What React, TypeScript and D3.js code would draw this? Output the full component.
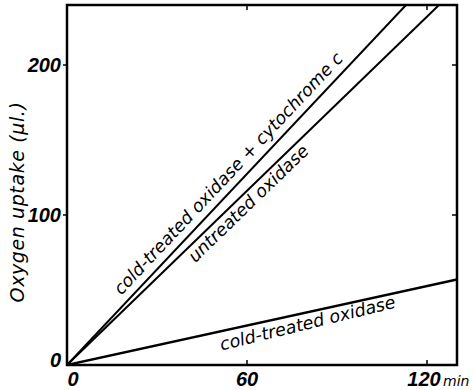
import React, { useEffect, useRef } from 'react'
import * as d3 from 'd3'

// time in minutes and oxygen uptake in µl
const cytochromeTimes = [0, 113]
const cytochromeValues = [0, 240]
const untreatedTimes = [0, 124]
const untreatedValues = [0, 240]
const coldTimes = [0, 130]
const coldValues = [0, 57]

const xTicks = [0, 60, 120]
const yTicks = [0, 100, 200]

const seriesNames = ['cold-treated oxidase + cytochrome c', 'untreated oxidase', 'cold-treated oxidase']

const W = 474
const H = 390
const FONT = '"DejaVu Sans", sans-serif'
const TICK_FONT = '"Liberation Sans", Arial, sans-serif'

export default function App() {
  const ref = useRef<SVGSVGElement>(null)

  useEffect(() => {
    const node = ref.current
    if (!node) return
    const svg = d3.select(node)
    svg.selectAll('*').remove()

    const margin = { left: 67, top: 5, right: 17, bottom: 25 }
    const x = d3.scaleLinear().domain([0, 130]).range([margin.left, W - margin.right])
    const y = d3.scaleLinear().domain([0, 240]).range([H - margin.bottom, margin.top])

    const series = [
      { name: seriesNames[0], t: cytochromeTimes, v: cytochromeValues, labelAt: 20, gap: -8, tilt: 0, width: 2 },
      { name: seriesNames[1], t: untreatedTimes, v: untreatedValues, labelAt: 39, gap: 16, tilt: 0, width: 2 },
      { name: seriesNames[2], t: coldTimes, v: coldValues, labelAt: 50, gap: 19, tilt: -1.5, width: 2.4 },
    ]

    svg.append('clipPath').attr('id', 'plot')
      .append('rect')
      .attr('x', x(0)).attr('y', y(240))
      .attr('width', x(130) - x(0)).attr('height', y(0) - y(240))

    const path = d3.line<[number, number]>()
      .x(d => x(d[0]))
      .y(d => y(d[1]))

    series.forEach(s => {
      const pts = s.t.map((t, i) => [t, s.v[i]] as [number, number])
      svg.append('path')
        .attr('d', path(pts))
        .attr('fill', 'none')
        .attr('stroke', '#000')
        .attr('stroke-width', s.width)
        .attr('clip-path', 'url(#plot)')

      // label along the line
      const interp = d3.scaleLinear().domain(s.t).range(s.v)
      const px = x(s.labelAt)
      const py = y(interp(s.labelAt))
      const last = pts[pts.length - 1]
      const angle = Math.atan2(y(last[1]) - y(0), x(last[0]) - x(0)) * 180 / Math.PI + s.tilt
      svg.append('text')
        .attr('transform', `translate(${px},${py}) rotate(${angle})`)
        .attr('y', s.gap)
        .attr('font-family', FONT)
        .attr('font-style', 'italic')
        .attr('font-size', 17.5)
        .text(s.name)
    })

    // frame
    svg.append('rect')
      .attr('x', x(0)).attr('y', y(240))
      .attr('width', x(130) - x(0)).attr('height', y(0) - y(240))
      .attr('fill', 'none')
      .attr('stroke', '#000')
      .attr('stroke-width', 2.5)

    // small ticks on all four sides
    xTicks.filter(t => t > 0).forEach(t => {
      svg.append('line').attr('x1', x(t)).attr('x2', x(t)).attr('y1', y(0)).attr('y2', y(0) - 5)
        .attr('stroke', '#000').attr('stroke-width', 1.5)
      svg.append('line').attr('x1', x(t)).attr('x2', x(t)).attr('y1', y(240)).attr('y2', y(240) + 5)
        .attr('stroke', '#000').attr('stroke-width', 1.5)
    })
    yTicks.filter(t => t > 0).forEach(t => {
      svg.append('line').attr('x1', x(0) - 4).attr('x2', x(0)).attr('y1', y(t)).attr('y2', y(t))
        .attr('stroke', '#000').attr('stroke-width', 1.5)
      svg.append('line').attr('x1', x(130)).attr('x2', x(130) - 5).attr('y1', y(t)).attr('y2', y(t))
        .attr('stroke', '#000').attr('stroke-width', 1.5)
    })

    const tickFont = (sel: any) => sel
      .attr('font-family', TICK_FONT)
      .attr('font-style', 'italic')
      .attr('font-weight', 'bold')
      .attr('font-size', 20)

    xTicks.forEach(t => {
      svg.append('text')
        .call(tickFont)
        .attr('x', t === 0 ? x(t) + 6 : t === 120 ? x(t) - 3 : x(t))
        .attr('y', H - 4)
        .attr('text-anchor', 'middle')
        .text(t)
    })
    svg.append('text')
      .attr('font-family', FONT)
      .attr('font-style', 'italic')
      .attr('font-size', 14)
      .attr('x', x(120) + 16)
      .attr('y', H - 4)
      .text('min')

    yTicks.forEach(t => {
      svg.append('text')
        .call(tickFont)
        .attr('x', x(0) - 6)
        .attr('y', y(t) + (t === 0 ? 2 : 7))
        .attr('text-anchor', 'end')
        .text(t)
    })

    svg.append('text')
      .attr('transform', `translate(24,${(y(0) + y(240)) / 2 + 17}) rotate(-90)`)
      .attr('text-anchor', 'middle')
      .attr('font-family', FONT)
      .attr('font-style', 'italic')
      .attr('font-size', 19)
      .attr('letter-spacing', 0.6)
      .text('Oxygen uptake (µl.)')
  }, [])

  return (
    <svg ref={ref} width={W} height={H}
      style={{ position: 'absolute', left: 0, top: 0, background: '#fff' }} />
  )
}
